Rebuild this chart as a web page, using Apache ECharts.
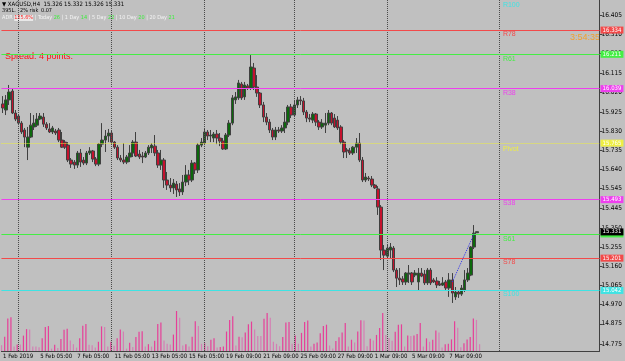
<!DOCTYPE html>
<html>
<head>
<meta charset="utf-8">
<script src="https://cdn.jsdelivr.net/npm/echarts@6/dist/echarts.min.js"></script>
<style>
    html, body { margin: 0; padding: 0; background: #c0c0c0; }
    #chart { width: 625px; height: 361px; }
</style>
</head>
<body>
<div id="chart"></div>
<script>
// XAGUSD H4 - open, close, low, high
const tickLabels = ['1 Feb 2019', '5 Feb 05:00', '7 Feb 05:00', '11 Feb 05:00', '13 Feb 05:00', '15 Feb 05:00',
    '19 Feb 09:00', '21 Feb 09:00', '25 Feb 09:00', '27 Feb 09:00', '1 Mar 09:00', '5 Mar 09:00', '7 Mar 09:00'];

const candles = [
    [15.964, 15.944, 15.919, 16.003], [15.934, 15.984, 15.909, 16.008], [15.984, 16.023, 15.959, 16.058], [16.028, 15.919, 15.914, 16.043],
    [15.919, 15.889, 15.879, 15.934], [15.904, 15.869, 15.859, 15.914], [15.869, 15.825, 15.815, 15.879], [15.835, 15.800, 15.750, 15.845],
    [15.750, 15.800, 15.686, 15.850], [15.800, 15.859, 15.795, 15.919], [15.850, 15.869, 15.835, 15.909], [15.859, 15.889, 15.850, 15.919],
    [15.889, 15.904, 15.884, 15.919], [15.899, 15.864, 15.850, 15.919], [15.864, 15.845, 15.835, 15.874], [15.840, 15.825, 15.820, 15.869],
    [15.825, 15.845, 15.815, 15.855], [15.830, 15.820, 15.810, 15.840], [15.835, 15.785, 15.775, 15.845], [15.785, 15.750, 15.746, 15.825],
    [15.775, 15.750, 15.741, 15.785], [15.760, 15.686, 15.676, 15.775], [15.686, 15.666, 15.647, 15.696], [15.676, 15.661, 15.642, 15.686],
    [15.661, 15.721, 15.647, 15.731], [15.721, 15.676, 15.652, 15.741], [15.686, 15.671, 15.661, 15.701], [15.671, 15.721, 15.661, 15.731],
    [15.721, 15.731, 15.711, 15.750], [15.731, 15.691, 15.676, 15.736], [15.691, 15.666, 15.656, 15.701], [15.666, 15.765, 15.656, 15.770],
    [15.765, 15.785, 15.750, 15.869], [15.785, 15.805, 15.726, 15.835], [15.805, 15.820, 15.775, 15.840], [15.820, 15.775, 15.765, 15.830],
    [15.775, 15.750, 15.741, 15.780], [15.750, 15.696, 15.686, 15.760], [15.696, 15.686, 15.676, 15.711], [15.686, 15.676, 15.666, 15.770],
    [15.676, 15.701, 15.666, 15.711], [15.701, 15.721, 15.676, 15.760], [15.721, 15.775, 15.701, 15.785], [15.775, 15.706, 15.701, 15.825],
    [15.716, 15.701, 15.691, 15.736], [15.706, 15.701, 15.671, 15.726], [15.701, 15.721, 15.696, 15.731], [15.721, 15.750, 15.711, 15.760],
    [15.746, 15.760, 15.721, 15.770], [15.755, 15.721, 15.706, 15.810], [15.721, 15.661, 15.647, 15.736], [15.661, 15.686, 15.637, 15.736],
    [15.686, 15.587, 15.548, 15.696], [15.587, 15.562, 15.538, 15.627], [15.562, 15.548, 15.528, 15.597], [15.548, 15.572, 15.518, 15.592],
    [15.567, 15.538, 15.503, 15.582], [15.543, 15.528, 15.508, 15.572], [15.528, 15.577, 15.513, 15.612], [15.577, 15.612, 15.557, 15.661],
    [15.612, 15.587, 15.562, 15.637], [15.587, 15.671, 15.577, 15.686], [15.671, 15.637, 15.617, 15.676], [15.637, 15.760, 15.622, 15.770],
    [15.760, 15.775, 15.750, 15.795], [15.770, 15.825, 15.760, 15.845], [15.825, 15.805, 15.785, 15.835], [15.805, 15.810, 15.775, 15.835],
    [15.795, 15.815, 15.775, 15.825], [15.815, 15.795, 15.765, 15.835], [15.795, 15.780, 15.755, 15.820], [15.780, 15.741, 15.736, 15.795],
    [15.741, 15.810, 15.736, 15.820], [15.810, 15.869, 15.800, 15.884], [15.869, 15.994, 15.859, 16.008], [15.984, 15.999, 15.964, 16.023],
    [15.994, 16.068, 15.984, 16.083], [16.063, 15.994, 15.984, 16.073], [15.999, 16.058, 15.984, 16.073], [16.053, 16.043, 16.033, 16.063],
    [16.043, 16.147, 16.033, 16.206], [16.142, 16.048, 16.033, 16.167], [16.048, 16.018, 15.999, 16.107], [16.018, 15.959, 15.944, 16.023],
    [15.959, 15.899, 15.874, 15.974], [15.899, 15.874, 15.859, 15.919], [15.874, 15.835, 15.820, 15.889], [15.835, 15.800, 15.785, 15.845],
    [15.800, 15.835, 15.785, 15.850], [15.835, 15.830, 15.820, 15.850], [15.830, 15.845, 15.820, 15.859], [15.845, 15.874, 15.820, 15.924],
    [15.874, 15.949, 15.859, 15.959], [15.949, 15.909, 15.894, 15.964], [15.909, 15.959, 15.899, 15.984], [15.959, 15.984, 15.944, 15.999],
    [15.984, 15.979, 15.959, 16.003], [15.979, 15.924, 15.909, 15.994], [15.924, 15.894, 15.874, 15.934], [15.894, 15.889, 15.874, 15.914],
    [15.884, 15.914, 15.869, 15.924], [15.914, 15.874, 15.855, 15.919], [15.874, 15.850, 15.835, 15.884], [15.850, 15.869, 15.840, 15.889],
    [15.859, 15.869, 15.820, 15.919], [15.869, 15.919, 15.859, 15.934], [15.919, 15.869, 15.859, 15.924], [15.894, 15.850, 15.845, 15.914],
    [15.884, 15.845, 15.835, 15.904], [15.850, 15.775, 15.765, 15.859], [15.775, 15.726, 15.696, 15.785], [15.736, 15.731, 15.696, 15.746],
    [15.731, 15.721, 15.711, 15.746], [15.721, 15.750, 15.711, 15.755], [15.750, 15.770, 15.721, 15.795], [15.770, 15.686, 15.676, 15.820],
    [15.686, 15.587, 15.577, 15.701], [15.587, 15.602, 15.577, 15.622], [15.597, 15.592, 15.582, 15.607], [15.592, 15.562, 15.552, 15.607],
    [15.562, 15.548, 15.543, 15.567], [15.543, 15.453, 15.414, 15.557], [15.453, 15.240, 15.191, 15.463], [15.240, 15.215, 15.141, 15.265],
    [15.210, 15.250, 15.200, 15.265], [15.240, 15.255, 15.200, 15.275], [15.250, 15.141, 15.131, 15.260], [15.141, 15.101, 15.057, 15.151],
    [15.101, 15.092, 15.067, 15.151], [15.097, 15.082, 15.067, 15.111], [15.082, 15.126, 15.067, 15.131], [15.121, 15.126, 15.077, 15.166],
    [15.126, 15.082, 15.067, 15.131], [15.116, 15.126, 15.106, 15.141], [15.082, 15.126, 15.042, 15.151], [15.126, 15.111, 15.106, 15.151],
    [15.121, 15.077, 15.067, 15.141], [15.077, 15.141, 15.067, 15.151], [15.141, 15.077, 15.067, 15.151], [15.092, 15.082, 15.077, 15.101],
    [15.087, 15.067, 15.052, 15.106], [15.072, 15.067, 15.062, 15.087], [15.067, 15.077, 15.062, 15.106], [15.082, 15.052, 15.042, 15.092],
    [15.052, 15.092, 15.008, 15.126], [15.092, 15.027, 14.978, 15.126], [15.008, 15.032, 14.993, 15.057], [15.032, 15.022, 15.003, 15.042],
    [15.022, 15.052, 15.013, 15.067], [15.042, 15.092, 15.032, 15.141], [15.092, 15.126, 15.082, 15.151], [15.116, 15.255, 15.111, 15.260],
    [15.255, 15.324, 15.245, 15.364], [15.326, 15.331, 15.326, 15.332]
];

const volumes = [17, 42, 95, 99, 13, 19, 19, 45, 64, 63, 13, 13, 11, 37, 70, 73, 7, 18, 9, 35,
    62, 65, 31, 20, 10, 37, 74, 79, 18, 17, 10, 27, 72, 70, 13, 27, 15, 37, 63, 57,
    7, 24, 12, 41, 56, 58, 13, 20, 13, 30, 79, 83, 31, 21, 19, 48, 117, 97, 16, 20,
    13, 42, 87, 73, 21, 23, 14, 33, 37, 10, 12, 13, 57, 91, 102, 16, 42, 40, 54, 78,
    86, 63, 44, 44, 94, 111, 97, 27, 21, 14, 41, 83, 85, 21, 45, 21, 53, 85, 89, 13,
    21, 25, 52, 73, 77, 16, 7, 29, 40, 54, 82, 13, 33, 25, 57, 90, 89, 14, 36, 31,
    47, 67, 111, 47, 38, 30, 56, 77, 78, 13, 45, 44, 45, 50, 82, 13, 37, 27, 33, 60,
    54, 10, 20, 21, 34, 87, 68, 11, 23, 34, 41, 95, 91, 20];

const priceTicks = [16.405, 16.310, 16.215, 16.115, 16.020, 15.925, 15.830, 15.735, 15.640, 15.545,
    15.445, 15.350, 15.255, 15.160, 15.065, 14.970, 14.875, 14.775];

const levelNames = ['R100', 'R78', 'R61', 'R38', 'Pivot', 'S38', 'S61', 'S78', 'S100'];
const levelValues = [16.478, 16.334, 16.211, 16.039, 15.765, 15.493, 15.318, 15.201, 15.042];

const separators = [5, 35, 65, 94, 124, 160];
const trendLine = [[145, 15.082], [152, 15.320]];
const lastPrice = 15.331;

const N = 193;
const categories = Array.from({length: N}, (_, i) => i);
const font = 'Liberation Sans Narrow, DejaVu Sans Condensed, Liberation Sans, sans-serif';
const bigFont = 'Liberation Sans, Arial, sans-serif';
const clear = 'rgba(0,0,0,0)';
const levelColors = {
    R100: '#3fe3e3', R78: '#f24a4a', R61: '#44ee44', R38: '#ee3fee', Pivot: '#eeee44',
    S38: '#ee3fee', S61: '#44ee44', S78: '#f24a4a', S100: '#3fe3e3'
};

let markData = [];
separators.forEach(s => {
    markData.push({xAxis: s, lineStyle: {type: 'dotted', color: '#4a4a4a', width: 1}, label: {show: false}});
});
levelNames.forEach((name, i) => {
    let v = levelValues[i], c = levelColors[name];
    markData.push({
        yAxis: v,
        lineStyle: {color: c, width: 1, type: name === 'Pivot' ? 'dotted' : 'solid'},
        label: {
            show: name !== 'R100', position: 'end', distance: 1, formatter: v.toFixed(3),
            backgroundColor: c, color: '#ffffff', fontSize: 6, fontFamily: font, padding: [1, 2, 0, 2]
        }
    });
    markData.push([
        {
            coord: [161, v], lineStyle: {color: clear, width: 1},
            label: {show: true, position: 'insideStartBottom', formatter: name, color: c, fontSize: 7, fontFamily: bigFont, distance: 1}
        },
        {coord: [N - 1, v]}
    ]);
});
markData.push([
    {coord: trendLine[0], lineStyle: {color: '#3030ee', type: 'dotted', width: 1}, label: {show: false}},
    {coord: trendLine[1]}
]);
markData.push({
    yAxis: lastPrice, lineStyle: {color: clear},
    label: {show: true, position: 'end', distance: 1, formatter: lastPrice.toFixed(3),
        backgroundColor: '#000000', color: '#ffffff', fontSize: 6, fontFamily: font, padding: [1, 2, 0, 2]}
});

let volData = volumes.map((v, i) => ({
    value: v,
    itemStyle: {color: (i > 0 && v > volumes[i - 1]) ? '#e63f98' : '#d47fb4'}
}));

let last = candles[candles.length - 1];
let labelEvery = (i) => i % 12 === 0 && i / 12 < tickLabels.length;

let myChart = echarts.init(document.getElementById('chart'));
myChart.setOption({
    backgroundColor: '#c0c0c0',
    animation: false,
    textStyle: {fontFamily: font},
    grid: [
        {left: 0, right: 22, top: 0, bottom: 10},
        {left: 0, right: 22, top: 311, bottom: 10}
    ],
    xAxis: [
        {
            type: 'category', gridIndex: 0, data: categories, boundaryGap: true,
            axisLine: {lineStyle: {color: '#404040'}},
            axisTick: {alignWithLabel: true, interval: labelEvery, length: 3, lineStyle: {color: '#404040'}},
            axisLabel: {
                interval: labelEvery, formatter: (v, i) => tickLabels[i / 12],
                fontSize: 6, fontFamily: font, color: '#000', align: 'left', margin: 2
            },
            splitLine: {show: false}
        },
        {type: 'category', gridIndex: 1, data: categories, show: false}
    ],
    yAxis: [
        {
            type: 'value', gridIndex: 0, position: 'right', min: 14.74, max: 16.479,
            axisLine: {show: true, onZero: false, lineStyle: {color: '#404040'}},
            axisTick: {show: true, customValues: priceTicks, length: 3, lineStyle: {color: '#404040'}},
            axisLabel: {customValues: priceTicks, formatter: v => v.toFixed(3), fontSize: 6.5, fontFamily: font, color: '#000', margin: 2},
            splitLine: {show: false}
        },
        {type: 'value', gridIndex: 1, show: false, min: 0, max: 117}
    ],
    series: [
        {
            name: 'volume', type: 'bar', xAxisIndex: 1, yAxisIndex: 1,
            barWidth: 1.2, data: volData, silent: true
        },
        {
            name: 'XAGUSD', type: 'candlestick', xAxisIndex: 0, yAxisIndex: 0,
            barWidth: 3, data: candles,
            itemStyle: {color: '#0c690c', color0: '#c4122e', borderColor: '#404040', borderColor0: '#404040', borderWidth: 1},
            markLine: {symbol: ['none', 'none'], silent: true, animation: false, data: markData}
        }
    ],
    graphic: [
        {type: 'text', left: 2, top: 1, style: {
            text: '\u25BC XAGUSD,H4  ' + [last[0], last[3], last[2], last[1]].map(v => v.toFixed(3)).join(' '),
            fontSize: 6, fill: '#000', fontFamily: font}},
        {type: 'text', left: 2, top: 8, style: {text: '395L.', fontSize: 5.5, fill: '#000', fontFamily: font}},
        {type: 'text', left: 20, top: 8, style: {text: '2% risk', fontSize: 5.5, fill: '#000', fontFamily: font}},
        {type: 'text', left: 41, top: 8, style: {text: '0.07', fontSize: 5.5, fill: '#000', fontFamily: font}},
        {type: 'text', left: 2, top: 15, style: {
            text: 'ADR {r|125.6%} | Today {g|26} | 1 Day {g|14} | 5 Day {g|22} | 10 Day {g|20} | 20 Day {g|21}',
            fontSize: 5.5, fill: '#f4f4f4', fontFamily: font,
            rich: {
                r: {fontSize: 5.5, fill: '#ff2020', backgroundColor: '#e8e8e8', fontFamily: font},
                g: {fontSize: 5.5, fill: '#3cf03c', fontFamily: font}
            }}},
        {type: 'text', left: 5, top: 52, style: {text: 'Spread: 4 points.', fontSize: 9, fill: '#ff1010', fontFamily: bigFont}},
        {type: 'text', left: 570, top: 33, style: {text: '3:54:35', fontSize: 9, fill: '#f0a030', fontFamily: bigFont}}
    ]
});
</script>
</body>
</html>
